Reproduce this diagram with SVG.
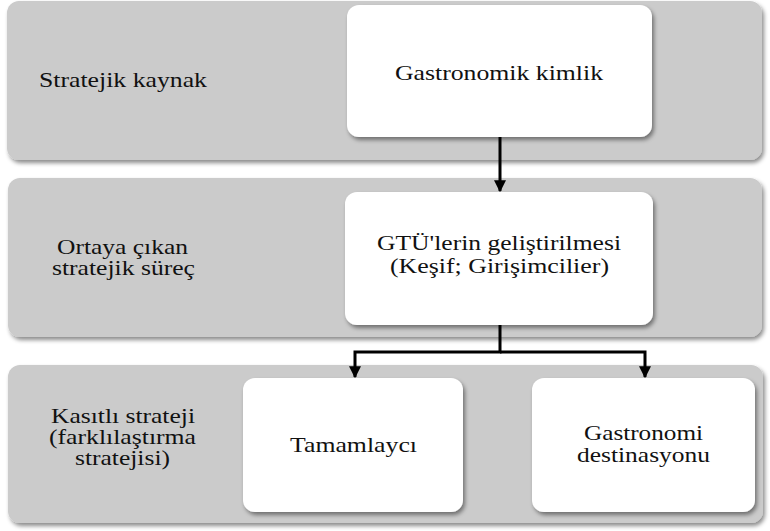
<svg xmlns="http://www.w3.org/2000/svg" width="770" height="531" viewBox="0 0 770 531">
  <defs>
    <filter id="shadow" x="-5%" y="-5%" width="112%" height="118%">
      <feDropShadow dx="2" dy="3" stdDeviation="2" flood-color="#000" flood-opacity="0.45"/>
    </filter>
    <marker id="arrow" viewBox="0 0 10 10" refX="9" refY="5" markerWidth="4" markerHeight="4" orient="auto" markerUnits="strokeWidth">
      <path d="M0,0 L10,5 L0,10 Z" fill="#000"/>
    </marker>
    <style>
      .band { fill: #cbcbcb; filter: url(#shadow); }
      .box { fill: #ffffff; filter: url(#shadow); }
      .lbl { font-family: 'Liberation Serif', 'Times New Roman', serif; font-size: 22px; fill: #111; text-anchor: middle; }
      .conn { fill: none; stroke: #000; stroke-width: 3; }
    </style>
  </defs>

  <rect width="770" height="531" fill="#ffffff"/>

  <!-- row bands -->
  <g id="band-kaynak">
    <rect class="band" x="7" y="1" width="755" height="159" rx="12"/>
    <text class="lbl" x="123" y="87" textLength="168" lengthAdjust="spacingAndGlyphs">Stratejik kaynak</text>
  </g>
  <g id="band-surec">
    <rect class="band" x="8" y="178" width="754" height="159" rx="12"/>
    <text class="lbl" x="122.5" y="254" textLength="131" lengthAdjust="spacingAndGlyphs">Ortaya çıkan</text>
    <text class="lbl" x="123.5" y="275" textLength="143" lengthAdjust="spacingAndGlyphs">stratejik süreç</text>
  </g>
  <g id="band-strateji">
    <rect class="band" x="8" y="365" width="755" height="158" rx="12"/>
    <text class="lbl" x="123" y="423" textLength="144" lengthAdjust="spacingAndGlyphs">Kasıtlı strateji</text>
    <text class="lbl" x="122.5" y="444" textLength="147" lengthAdjust="spacingAndGlyphs">(farklılaştırma</text>
    <text class="lbl" x="122.5" y="465" textLength="95" lengthAdjust="spacingAndGlyphs">stratejisi)</text>
  </g>

  <!-- connectors -->
  <g id="connectors">
    <path class="conn" d="M500,137 L500,191" marker-end="url(#arrow)"/>
    <path class="conn" d="M500,325 L500,352 L355,352 L355,377" marker-end="url(#arrow)"/>
    <path class="conn" d="M500,352 L645,352 L645,377" marker-end="url(#arrow)"/>
  </g>

  <!-- nodes -->
  <g id="node-kimlik">
    <rect class="box" x="347" y="5" width="305" height="132" rx="12"/>
    <text class="lbl" x="499" y="80" textLength="208" lengthAdjust="spacingAndGlyphs">Gastronomik kimlik</text>
  </g>
  <g id="node-gtu">
    <rect class="box" x="345" y="192" width="308" height="133" rx="12"/>
    <text class="lbl" x="499" y="250" textLength="244" lengthAdjust="spacingAndGlyphs">GTÜ'lerin geliştirilmesi</text>
    <text class="lbl" x="499.5" y="273" textLength="219" lengthAdjust="spacingAndGlyphs">(Keşif; Girişimcilier)</text>
  </g>
  <g id="node-tamamlayci">
    <rect class="box" x="243" y="378" width="220" height="134" rx="12"/>
    <text class="lbl" x="353.5" y="452" textLength="127" lengthAdjust="spacingAndGlyphs">Tamamlaycı</text>
  </g>
  <g id="node-destinasyon">
    <rect class="box" x="532" y="378" width="223" height="134" rx="12"/>
    <text class="lbl" x="643.5" y="440" textLength="119" lengthAdjust="spacingAndGlyphs">Gastronomi</text>
    <text class="lbl" x="643.5" y="462" textLength="133" lengthAdjust="spacingAndGlyphs">destinasyonu</text>
  </g>
</svg>
